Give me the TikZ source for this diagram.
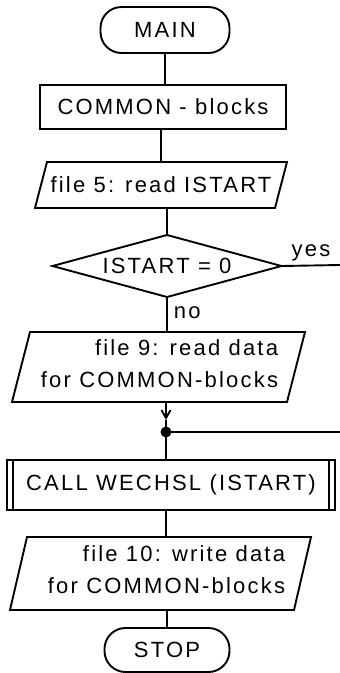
\documentclass[tikz,border=0pt]{standalone}
\usepackage{fontspec}
\setmainfont[LetterSpace=10]{Liberation Sans}
\usetikzlibrary{shapes.geometric,arrows.meta}
\tikzset{
  base/.style={inner sep=0pt, outer sep=0pt},
  term/.style={base, draw, rounded corners=21pt},
  proc/.style={base, draw},
  iobox/.style={base},
  decis/.style={base, draw, diamond, aspect=3.7},
  lbl/.style={inner sep=0pt},
  conn/.style={draw},
}
\begin{document}
\begin{tikzpicture}[x=1pt,y=-1pt,line width=1.9pt,font=\fontsize{22}{32}\selectfont]
\useasboundingbox[fill=white] (0,0) rectangle (340,673);

% nodes
\node[term, minimum width=129pt, minimum height=46pt] (main) at (165,30) {MAIN};
\node[proc, minimum width=246pt, minimum height=44pt] (common) at (163,107) {COMMON - blocks};
\node[iobox, minimum width=240pt, minimum height=46pt] (f5) at (161,185) {file 5: read ISTART};
\draw ([xshift=-6pt]f5.south west) -- ([xshift=-6pt]f5.south east) -- ([xshift=6pt]f5.north east) -- ([xshift=6pt]f5.north west) -- cycle;

\node[decis, minimum width=229pt, minimum height=62pt] (dec) at (167,266) {ISTART = 0};
\coordinate (yesend) at (340,265);
\node[lbl, anchor=base] (yes) at (311,256) {yes};
\node[lbl, anchor=base west] (no) at (173,318) {no};

\node[iobox, minimum width=275pt, minimum height=70pt] (f9) at (158.5,367) {};
\draw ([xshift=-9pt]f9.south west) -- ([xshift=-9pt]f9.south east) -- ([xshift=9pt]f9.north east) -- ([xshift=9pt]f9.north west) -- cycle;
\node[lbl, align=right, anchor=east] (f9t) at (279,364) {file 9: read data\\for COMMON-blocks};

\coordinate (arr) at (166,420);
\coordinate (junc) at (166,432);
\coordinate (backend) at (340,432);

\node[proc, minimum width=328pt, minimum height=50pt] (call) at (171,485) {CALL WECHSL (ISTART)};
\draw ([xshift=6pt]call.north west) -- ([xshift=6pt]call.south west);
\draw ([xshift=-6pt]call.north east) -- ([xshift=-6pt]call.south east);

\node[iobox, minimum width=284pt, minimum height=73pt] (f10) at (160.5,573.5) {};
\draw ([xshift=-8.5pt]f10.south west) -- ([xshift=-8.5pt]f10.south east) -- ([xshift=8.5pt]f10.north east) -- ([xshift=8.5pt]f10.north west) -- cycle;
\node[lbl, align=right, anchor=east] (f10t) at (286,570) {file 10: write data\\for COMMON-blocks};

\node[term, minimum width=125pt, minimum height=44pt] (stop) at (167,650) {STOP};

% connectors
\draw (main.south) -- (main.south |- common.north);
\draw (common.south -| f5.north) -- (f5.north);
\draw (f5.south -| dec.north) -- (dec.north);
\draw (dec.east) -- (yesend);
\draw (dec.south) -- (dec.south |- f9.north);
\draw[-{Straight Barb[length=8pt,width=9pt]}] (f9.south -| arr) -- (arr);
\draw (arr) -- (junc);
\fill (junc) circle (5.5pt);
\draw (junc) -- (backend);
\draw (junc) -- (junc |- call.north);
\draw (call.south -| junc) -- (junc |- f10.north);
\draw (f10.south -| stop.north) -- (stop.north);
\end{tikzpicture}
\end{document}
